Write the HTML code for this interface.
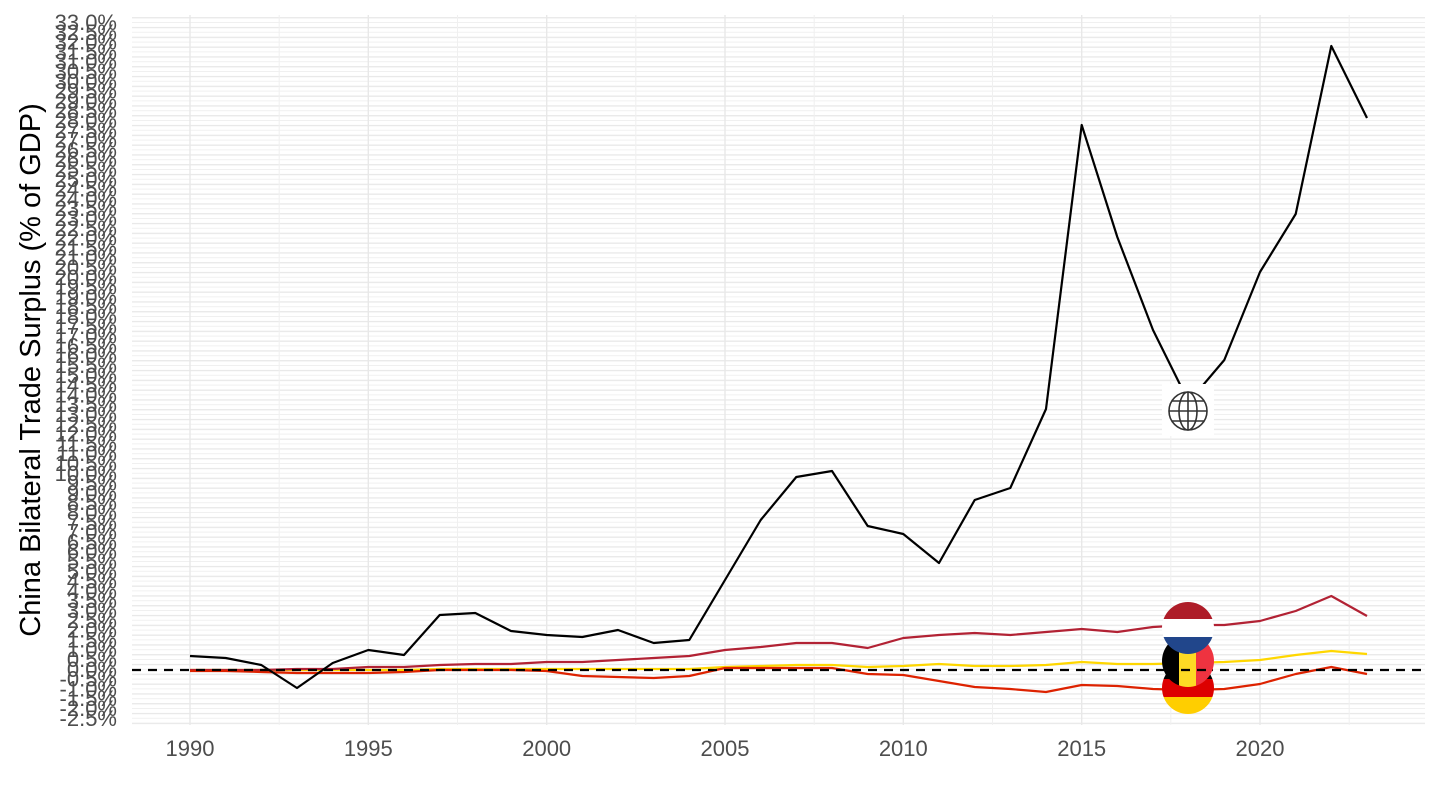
<!DOCTYPE html>
<html><head><meta charset="utf-8"><style>
html,body{margin:0;padding:0;background:#fff}
svg{display:block}
text{font-family:"Liberation Sans",sans-serif}
</style></head><body>
<svg width="1440" height="810" viewBox="0 0 1440 810" xmlns="http://www.w3.org/2000/svg">
<defs>
<pattern id="hg" x="0" y="17.1" width="10" height="9.8" patternUnits="userSpaceOnUse">
<rect x="0" y="0" width="10" height="1.3" fill="#e8e8e8"/>
<rect x="0" y="4.9" width="10" height="1" fill="#f0f0f0"/>
</pattern>
</defs>
<rect x="132" y="15" width="1293" height="710" fill="url(#hg)"/>
<g stroke="#e8e8e8" stroke-width="1.4">
<line x1="190" y1="15" x2="190" y2="725"/><line x1="368.3" y1="15" x2="368.3" y2="725"/><line x1="546.7" y1="15" x2="546.7" y2="725"/><line x1="725" y1="15" x2="725" y2="725"/><line x1="903.3" y1="15" x2="903.3" y2="725"/><line x1="1081.7" y1="15" x2="1081.7" y2="725"/><line x1="1260" y1="15" x2="1260" y2="725"/>
</g>
<g stroke="#f0f0f0" stroke-width="1">
<line x1="279.2" y1="15" x2="279.2" y2="725"/><line x1="457.5" y1="15" x2="457.5" y2="725"/><line x1="635.8" y1="15" x2="635.8" y2="725"/><line x1="814.2" y1="15" x2="814.2" y2="725"/><line x1="992.5" y1="15" x2="992.5" y2="725"/><line x1="1170.8" y1="15" x2="1170.8" y2="725"/><line x1="1349.2" y1="15" x2="1349.2" y2="725"/>
</g>
<g fill="none" stroke-width="2.2" stroke-linejoin="round">
<polyline stroke="#FFD700" points="190,670 225.7,670 261.3,670 297,670 332.7,670 368.3,670 404,670 439.7,669 475.3,669 511,669 546.7,669 582.3,669 618,669 653.7,669 689.3,669 725,667 760.7,666 796.3,665 832,665 867.7,667 903.3,666 939,664 974.7,666 1010.3,666 1046,665 1081.7,662 1117.3,664 1153,664 1188.7,663 1224.3,662 1260,660 1295.7,655 1331.3,651 1367,654"/>
<polyline stroke="#B22234" points="190,670 225.7,670 261.3,670 297,669 332.7,669 368.3,667 404,667 439.7,665 475.3,664 511,664 546.7,662 582.3,662 618,660 653.7,658 689.3,656 725,650 760.7,647 796.3,643 832,643 867.7,648 903.3,638 939,635 974.7,633 1010.3,635 1046,632 1081.7,629 1117.3,632 1153,627 1188.7,625 1224.3,625 1260,621 1295.7,611 1331.3,596 1367,616"/>
<polyline stroke="#DD2200" points="190,671 225.7,671 261.3,672 297,673 332.7,673 368.3,673 404,672 439.7,670 475.3,670 511,670 546.7,671 582.3,676 618,677 653.7,678 689.3,676 725,668 760.7,668 796.3,668 832,668 867.7,674 903.3,675 939,681 974.7,687 1010.3,689 1046,692 1081.7,685 1117.3,686 1153,689 1188.7,690 1224.3,689 1260,684 1295.7,674 1331.3,667 1367,674"/>
<polyline stroke="#000" points="190,656 225.7,658 261.3,665 297,688 332.7,663 368.3,650 404,655 439.7,615 475.3,613 511,631 546.7,635 582.3,637 618,630 653.7,643 689.3,640 725,580 760.7,520 796.3,477 832,471 867.7,526 903.3,534 939,563 974.7,500 1010.3,488 1046,409 1081.7,125 1117.3,237 1153,330 1188.7,402 1224.3,360 1260,272 1295.7,214 1331.3,46 1367,118"/>
</g>
<line x1="132" y1="670" x2="1425" y2="670" stroke="#000" stroke-width="2.2" stroke-dasharray="9,7"/>
<rect x="1162" y="384" width="52" height="52" fill="#fff"/>
<g fill="none" stroke="#333" stroke-width="1.6">
<circle cx="1188" cy="411" r="19"/>
<ellipse cx="1188" cy="411" rx="9" ry="19"/>
<line x1="1188" y1="392" x2="1188" y2="430"/>
<line x1="1169" y1="411" x2="1207" y2="411"/>
<line x1="1172" y1="401" x2="1204" y2="401"/>
<line x1="1172" y1="421" x2="1204" y2="421"/>
</g>
<defs>
<clipPath id="cde"><circle cx="1188" cy="688" r="26"/></clipPath>
<clipPath id="cbe"><circle cx="1188" cy="661" r="26"/></clipPath>
<clipPath id="cnl"><circle cx="1188" cy="628" r="26"/></clipPath>
</defs>
<g clip-path="url(#cde)"><rect x="1160" y="660" width="56" height="19" fill="#000"/><rect x="1160" y="679" width="56" height="18" fill="#DD0000"/><rect x="1160" y="697" width="56" height="20" fill="#FFCE00"/></g>
<g clip-path="url(#cbe)"><rect x="1160" y="633" width="20" height="56" fill="#000"/><rect x="1179" y="633" width="18" height="56" fill="#FDDA24"/><rect x="1196" y="633" width="20" height="56" fill="#EF3340"/></g>
<g clip-path="url(#cnl)"><rect x="1160" y="600" width="56" height="19" fill="#AE1C28"/><rect x="1160" y="619" width="56" height="18" fill="#fff"/><rect x="1160" y="637" width="56" height="20" fill="#21468B"/></g>
<line x1="1165" y1="670" x2="1211" y2="670" stroke="#000" stroke-width="2.2" stroke-dasharray="9,7"/>
<g font-size="22" fill="#4d4d4d" text-anchor="end">
<text x="117" y="30">33.0%</text><text x="117" y="39.8">32.5%</text><text x="117" y="49.6">32.0%</text><text x="117" y="59.4">31.5%</text><text x="117" y="69.2">31.0%</text><text x="117" y="79">30.5%</text><text x="117" y="88.8">30.0%</text><text x="117" y="98.6">29.5%</text><text x="117" y="108.4">29.0%</text><text x="117" y="118.2">28.5%</text><text x="117" y="128">28.0%</text><text x="117" y="137.8">27.5%</text><text x="117" y="147.6">27.0%</text><text x="117" y="157.4">26.5%</text><text x="117" y="167.2">26.0%</text><text x="117" y="177">25.5%</text><text x="117" y="186.8">25.0%</text><text x="117" y="196.6">24.5%</text><text x="117" y="206.4">24.0%</text><text x="117" y="216.2">23.5%</text><text x="117" y="226">23.0%</text><text x="117" y="235.8">22.5%</text><text x="117" y="245.6">22.0%</text><text x="117" y="255.4">21.5%</text><text x="117" y="265.2">21.0%</text><text x="117" y="275">20.5%</text><text x="117" y="284.8">20.0%</text><text x="117" y="294.6">19.5%</text><text x="117" y="304.4">19.0%</text><text x="117" y="314.2">18.5%</text><text x="117" y="324">18.0%</text><text x="117" y="333.8">17.5%</text><text x="117" y="343.6">17.0%</text><text x="117" y="353.4">16.5%</text><text x="117" y="363.2">16.0%</text><text x="117" y="373">15.5%</text><text x="117" y="382.8">15.0%</text><text x="117" y="392.6">14.5%</text><text x="117" y="402.4">14.0%</text><text x="117" y="412.2">13.5%</text><text x="117" y="422">13.0%</text><text x="117" y="431.8">12.5%</text><text x="117" y="441.6">12.0%</text><text x="117" y="451.4">11.5%</text><text x="117" y="461.2">11.0%</text><text x="117" y="471">10.5%</text><text x="117" y="480.8">10.0%</text><text x="117" y="490.6">9.5%</text><text x="117" y="500.4">9.0%</text><text x="117" y="510.2">8.5%</text><text x="117" y="520">8.0%</text><text x="117" y="529.8">7.5%</text><text x="117" y="539.6">7.0%</text><text x="117" y="549.4">6.5%</text><text x="117" y="559.2">6.0%</text><text x="117" y="569">5.5%</text><text x="117" y="578.8">5.0%</text><text x="117" y="588.6">4.5%</text><text x="117" y="598.4">4.0%</text><text x="117" y="608.2">3.5%</text><text x="117" y="618">3.0%</text><text x="117" y="627.8">2.5%</text><text x="117" y="637.6">2.0%</text><text x="117" y="647.4">1.5%</text><text x="117" y="657.2">1.0%</text><text x="117" y="667">0.5%</text><text x="117" y="676.8">0.0%</text><text x="117" y="686.6">-0.5%</text><text x="117" y="696.4">-1.0%</text><text x="117" y="706.2">-1.5%</text><text x="117" y="716">-2.0%</text><text x="117" y="725.8">-2.5%</text>
</g>
<g font-size="22" fill="#4d4d4d" text-anchor="middle">
<text x="190" y="756">1990</text><text x="368.3" y="756">1995</text><text x="546.7" y="756">2000</text><text x="725" y="756">2005</text><text x="903.3" y="756">2010</text><text x="1081.7" y="756">2015</text><text x="1260" y="756">2020</text>
</g>
<text transform="translate(40,370) rotate(-90)" font-size="29" fill="#000" text-anchor="middle">China Bilateral Trade Surplus (% of GDP)</text>
</svg>
</body></html>
